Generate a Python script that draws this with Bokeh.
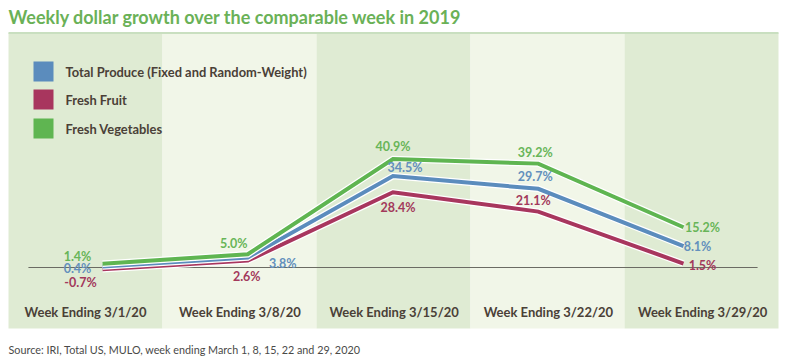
from bokeh.plotting import figure
from bokeh.models import Range1d, ColumnDataSource
from bokeh.core.properties import value
from bokeh.embed import file_html
from bokeh.resources import INLINE

# ---- data ----
weeks = ["Week Ending 3/1/20", "Week Ending 3/8/20", "Week Ending 3/15/20",
         "Week Ending 3/22/20", "Week Ending 3/29/20"]
series_names = ["Total Produce (Fixed and Random-Weight)", "Fresh Fruit", "Fresh Vegetables"]
total_produce = [0.4, 3.8, 34.5, 29.7, 8.1]
fresh_fruit = [-0.7, 2.6, 28.4, 21.1, 1.5]
fresh_vegetables = [1.4, 5.0, 40.9, 39.2, 15.2]

# ---- styling ----
W, H = 800, 363
BLUE, RED, GREEN = "#5b8cbd", "#a8365e", "#5fb551"
LBL_BLUE, LBL_RED, LBL_GREEN = "#6390bd", "#a3395b", "#68b558"
DARK_BAND, LIGHT_BAND = "#dfebd3", "#f1f6e8"
TEXT_DARK = "#4a4037"
FONT = "Lato"
XPX, YPX, X0PX, Y0PX = 145.25, 2.65, 102, 267

p = figure(width=W, height=H, output_backend="svg", toolbar_location=None,
           x_range=Range1d(-X0PX / XPX, (W - X0PX) / XPX),
           y_range=Range1d(-(H - Y0PX) / YPX, Y0PX / YPX),
           min_border=0, outline_line_color=None)
p.axis.visible = False
p.grid.visible = False
p.background_fill_color = "white"
p.border_fill_color = "white"

# pixel-like ranges for decoration (reference pixel coordinates)
p.extra_x_ranges = {"px": Range1d(0, W)}
p.extra_y_ranges = {"py": Range1d(H, 0)}

# column bands
n = len(weeks)
col_left = [8 + 154 * i for i in range(n)]
col_right = [8 + 154 * (i + 1) for i in range(n)]
col_colors = [DARK_BAND if i % 2 == 0 else LIGHT_BAND for i in range(n)]
p.quad(left=col_left, right=col_right, top=[32.5] * n, bottom=[328] * n,
       fill_color=col_colors, line_color=None, x_range_name="px", y_range_name="py")
p.segment(x0=[8], x1=[778], y0=[32.5], y1=[32.5], line_color="#c9dfc0", line_width=2,
          x_range_name="px", y_range_name="py")

# zero line
p.segment(x0=[-0.51], x1=[4.51], y0=[0], y1=[0], line_color="#6b6b63", line_width=1.2)

xs = list(range(n))
order = [(fresh_fruit, RED), (total_produce, BLUE), (fresh_vegetables, GREEN)]
for vals, col in order:
    p.line(xs, vals, line_color="white", line_width=6.5, line_join="miter")
    p.line(xs, vals, line_color=col, line_width=4, line_join="miter")

# value labels
offsets = {
    "veg": ([-25, -14, 0, -3, 19], [-7, -11, -13, -11, 0]),
    "tot": ([-25, 35, 12, -3, 14], [2, 6, -9, -12, 0]),
    "fru": ([-22, -1, 5, -5, 19], [13, 16, 15, -11, 2]),
}
for key, vals, col in [("veg", fresh_vegetables, LBL_GREEN), ("tot", total_produce, LBL_BLUE),
                       ("fru", fresh_fruit, LBL_RED)]:
    src = ColumnDataSource(dict(x=xs, y=vals, t=[f"{v:.1f}%" for v in vals],
                                xo=offsets[key][0], yo=offsets[key][1]))
    p.text(x="x", y="y", text="t", x_offset="xo", y_offset="yo", source=src,
           text_color=col, text_font=value(FONT), text_font_style="bold",
           text_font_size="12.5px", text_align="center", text_baseline="middle")

# category labels
col_centers = [85 + 154.3 * i for i in range(n)]
p.text(x=col_centers, y=[311] * n, text=weeks, text_color=TEXT_DARK,
       text_font=value(FONT), text_font_style="bold", text_font_size="13px",
       text_align="center", text_baseline="middle", x_range_name="px", y_range_name="py")

# legend
leg_colors = [BLUE, RED, GREEN]
leg_y = [71, 99, 128]
p.rect(x=[43] * 3, y=leg_y, width=20, height=20, fill_color=leg_colors, line_color=None,
       x_range_name="px", y_range_name="py")
p.text(x=[65] * 3, y=leg_y, text=series_names, text_color=TEXT_DARK,
       text_font=value(FONT), text_font_style="bold", text_font_size="12.9px",
       text_align="left", text_baseline="middle", x_range_name="px", y_range_name="py")

# title & source
p.text(x=[8], y=[16], text=["Weekly dollar growth over the comparable week in 2019"],
       text_color="#6ab157", text_font=value(FONT), text_font_style="bold",
       text_font_size="18px", text_align="left", text_baseline="middle",
       x_range_name="px", y_range_name="py")
p.text(x=[8], y=[349], text=["Source: IRI, Total US, MULO, week ending March 1, 8, 15, 22 and 29, 2020"],
       text_color="#4a4a48", text_font=value(FONT), text_font_size="10.8px",
       text_align="left", text_baseline="middle", x_range_name="px", y_range_name="py")

open("out.html", "w").write(file_html(p, INLINE))
